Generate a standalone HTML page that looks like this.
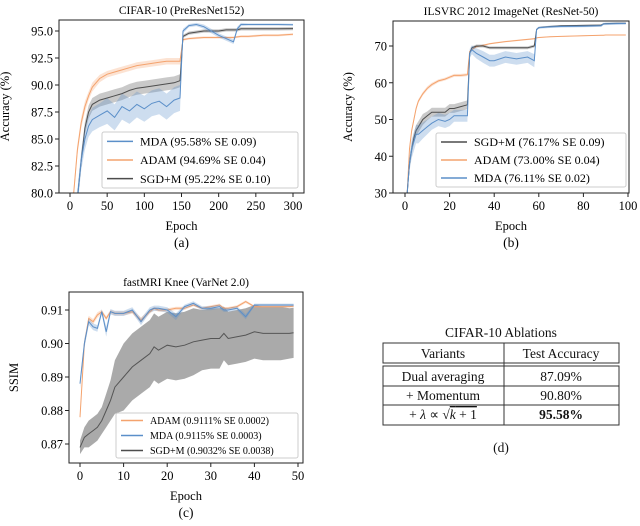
<!DOCTYPE html>
<html><head><meta charset="utf-8">
<style>
body{margin:0;background:#fff;}
svg{display:block;font-family:"Liberation Serif",serif;}
</style></head><body>
<svg id="fig" width="640" height="526" viewBox="0 0 640 526" xmlns="http://www.w3.org/2000/svg">
<!-- table (d) -->
<g font-size="13.5" fill="#111">
<text x="501" y="337" text-anchor="middle">CIFAR-10 Ablations</text>
<rect x="383" y="343" width="236" height="20" fill="none" stroke="#333" stroke-width="1"/>
<rect x="383" y="366" width="236" height="59" fill="none" stroke="#333" stroke-width="1"/>
<line x1="504" y1="343" x2="504" y2="425" stroke="#333"/>
<line x1="383" y1="386" x2="619" y2="386" stroke="#333"/>
<line x1="383" y1="405" x2="619" y2="405" stroke="#333"/>
<text x="443" y="358" text-anchor="middle">Variants</text>
<text x="561" y="358" text-anchor="middle">Test Accuracy</text>
<text x="443" y="381" text-anchor="middle">Dual averaging</text>
<text x="561" y="381" text-anchor="middle">87.09%</text>
<text x="443" y="400" text-anchor="middle">+ Momentum</text>
<text x="561" y="400" text-anchor="middle">90.80%</text>
<text x="443" y="419" text-anchor="middle">+ <tspan font-style="italic">λ</tspan> ∝ √<tspan font-style="italic" text-decoration="overline">k</tspan><tspan text-decoration="overline"> + 1</tspan></text>
<text x="561" y="419" text-anchor="middle" font-weight="bold">95.58%</text>
<text x="501" y="452" text-anchor="middle">(d)</text>
</g>
</svg>
<script>
// ---- data (a) CIFAR-10 ----
const aEpochs=[0,5,10,15,20,25,30,40,50,60,70,80,90,100,110,120,130,140,148,152,160,170,180,190,200,210,220,225,230,240,260,280,300];
const aMDA=[70,76,79.5,83,85,86.2,86.8,87.2,87.6,87.0,88,87.6,88.2,87.8,88.3,88.5,88,88.6,88.8,95.0,95.5,95.6,95.4,95.0,94.6,94.3,94.0,95.2,95.6,95.6,95.6,95.6,95.58];
const aADAM=[70,80,84,86.5,88,89,89.8,90.6,91,91.2,91.4,91.6,91.8,91.9,92.0,92.1,92.2,92.2,92.2,94.2,94.3,94.35,94.4,94.4,94.4,94.4,94.4,94.45,94.5,94.5,94.6,94.6,94.69];
const aSGD=[70,76,79.5,83,86,87.5,88.2,88.6,88.8,89,89.2,89.5,89.7,89.8,89.9,90,90.1,90.2,90.4,94.5,94.8,94.9,95.0,95.0,95.0,95.1,95.1,95.1,95.2,95.2,95.2,95.2,95.22];
const aMDAse=[0.8,0.8,0.8,0.9,1.0,1.0,1.1,1.1,1.2,1.2,1.2,1.2,1.2,1.2,1.2,1.2,1.2,1.2,1.2,0.2,0.15,0.15,0.2,0.2,0.2,0.2,0.2,0.2,0.15,0.1,0.1,0.1,0.1];
const aADAMse=[0.5,0.5,0.5,0.5,0.5,0.4,0.4,0.35,0.3,0.3,0.3,0.3,0.3,0.3,0.3,0.3,0.3,0.3,0.3,0.1,0.1,0.1,0.1,0.1,0.1,0.1,0.1,0.1,0.1,0.1,0.1,0.1,0.1];
const aSGDse=[0.6,0.6,0.6,0.6,0.6,0.6,0.6,0.6,0.6,0.6,0.6,0.6,0.6,0.6,0.6,0.6,0.6,0.6,0.6,0.15,0.15,0.15,0.15,0.15,0.15,0.15,0.15,0.15,0.15,0.15,0.15,0.15,0.15];
const aYTicks=[80.0,82.5,85.0,87.5,90.0,92.5,95.0];
const aXTicks=[0,50,100,150,200,250,300];
// ---- data (b) ImageNet ----
const bEpochs=[1,2,3,4,5,6,8,10,12,15,18,20,22,25,28,29,30,32,35,38,40,45,50,55,58,59,60,65,70,80,88,89,90,95,99];
const bSGD=[30,38,42,45,47,48,50,51,52,52,52,53,53,53.5,54,68,69.5,70,70,69.5,69.5,69.5,69.5,69.5,70,74.5,75,75.3,75.5,75.6,75.7,76,76.1,76.2,76.17];
const bADAM=[30,42,47,50,53,55,57,58.5,59.5,60.5,61,61.5,62,62,62.2,68.5,69,69.8,70.2,70.6,70.8,71.2,71.5,71.8,72,72.2,72.3,72.5,72.6,72.8,72.9,72.9,73,73,73];
const bMDA=[30,38,42,44,46,46,47,48,49,50,49.5,50,51,51,51,68,69,68,67,66,66,67,66.5,67,66,74.5,75,75.2,75.3,75.4,75.5,76,76,76.1,76.11];
const bSGDse=[1,1.5,1.5,1.5,1.5,1.5,1.5,1.2,1.2,1.2,1.2,1.2,1.2,1.2,1.2,0.4,0.4,0.4,0.4,0.4,0.4,0.4,0.4,0.4,0.4,0.2,0.2,0.2,0.2,0.2,0.2,0.2,0.2,0.2,0.2];
const bADAMse=[0.5,0.6,0.6,0.6,0.6,0.5,0.5,0.5,0.5,0.4,0.4,0.4,0.4,0.4,0.4,0.2,0.2,0.2,0.2,0.2,0.2,0.2,0.2,0.2,0.2,0.1,0.1,0.1,0.1,0.1,0.1,0.1,0.1,0.1,0.1];
const bMDAse=[1,2,2.5,2.5,2.5,2.5,2.2,2,1.8,1.8,1.8,1.8,1.6,1.6,1.6,1.2,1.2,1.4,1.6,1.6,1.6,1.6,1.6,1.6,1.8,0.3,0.3,0.3,0.3,0.3,0.3,0.3,0.3,0.3,0.3];
const bYTicks=[30,40,50,60,70];
const bXTicks=[0,20,40,60,80,100];
// ---- data (c) fastMRI ----
const cEpochs=[0,1,2,3,4,5,6,7,8,10,12,14,16,17,18,20,22,24,26,28,30,32,33,34,36,38,40,42,44,46,48,49];
const cADAM=[.878,.900,.9075,.9065,.9085,.9095,.9075,.9095,.909,.909,.9095,.907,.9095,.9105,.91,.91,.9105,.9105,.9115,.9105,.911,.9115,.9105,.9105,.911,.9125,.911,.911,.911,.911,.911,.9111];
const cMDA=[.888,.900,.9065,.905,.9045,.9095,.9035,.9095,.909,.909,.910,.9065,.910,.9105,.9105,.910,.908,.911,.912,.9105,.9105,.911,.910,.910,.9105,.908,.9115,.9115,.9115,.9115,.9115,.9115];
const cSGD=[.869,.872,.873,.874,.875,.877,.880,.883,.887,.890,.893,.895,.897,.899,.898,.8995,.899,.8995,.9005,.901,.9015,.9015,.903,.9015,.902,.9025,.9035,.903,.903,.903,.903,.9032];
const cADAMse=[.001,.001,.0008,.0008,.0008,.0006,.0006,.0006,.0006,.0006,.0006,.0008,.0006,.0005,.0005,.0005,.0005,.0005,.0004,.0004,.0004,.0004,.0004,.0004,.0004,.0004,.0003,.0003,.0003,.0003,.0003,.0003];
const cMDAse=[.0015,.0015,.001,.001,.001,.0008,.0015,.0008,.0008,.0008,.0008,.001,.0008,.0008,.0008,.0008,.001,.0006,.0006,.0006,.0006,.0006,.0006,.0006,.0006,.0008,.0004,.0004,.0004,.0004,.0004,.0004];
const cSGDse=[.002,.003,.004,.004,.004,.004,.005,.006,.008,.010,.010,.010,.010,.010,.010,.010,.010,.010,.010,.009,.009,.009,.008,.008,.008,.008,.008,.008,.008,.008,.0075,.0075];
const cYTicks=[0.87,0.88,0.89,0.90,0.91];
const cXTicks=[0,10,20,30,40,50];

const NS="http://www.w3.org/2000/svg";
const svg=document.getElementById('fig');
function mk(tag,attrs,parent){const e=document.createElementNS(NS,tag);for(const k in attrs)e.setAttribute(k,attrs[k]);(parent||svg).appendChild(e);return e;}
const BLUE='#5b8fc9',ORANGE='#f4a36e',GRAY='#4d4d4d';

function panel(o){
  const g=mk('g',{});
  
  
  const sx=v=>o.px0+(v-o.x0)*(o.px1-o.px0)/(o.x1-o.x0);
  const sy=v=>o.py0+(v-o.y0)*(o.py1-o.py0)/(o.y1-o.y0);
  const cid='clip-'+o.name;
  const defs=mk('defs',{},g);
  const cp=mk('clipPath',{id:cid},defs);
  mk('rect',{x:o.L,y:o.T,width:o.R-o.L,height:o.B-o.T},cp);
  const plot=mk('g',{'clip-path':'url(#'+cid+')'},g);
  o.series.forEach(s=>{
    let d='';
    o.xs.forEach((x,i)=>{d+=(i?'L':'M')+sx(x).toFixed(1)+','+sy(s.v[i]+s.se[i]).toFixed(1);});
    for(let i=o.xs.length-1;i>=0;i--)d+='L'+sx(o.xs[i]).toFixed(1)+','+sy(s.v[i]-s.se[i]).toFixed(1);
    const band=mk('path',{d:d+'Z',fill:s.color,'fill-opacity':s.bandOp||0.3,stroke:'none'},plot);
    
    
    let l='';
    o.xs.forEach((x,i)=>{l+=(i?'L':'M')+sx(x).toFixed(1)+','+sy(s.v[i]).toFixed(1);});
    const line=mk('path',{d:l,fill:'none',stroke:s.color,'stroke-width':1}, plot);
    
    
  });
  const frame=mk('rect',{x:o.L,y:o.T,width:o.R-o.L,height:o.B-o.T,fill:'none',stroke:'#222','stroke-width':1},g);
  
  
  o.yt.forEach(v=>{
    const y=sy(v);
    mk('line',{x1:o.L-4,x2:o.L,y1:y,y2:y,stroke:'#222'},g);
    const t=mk('text',{x:o.L-6,y:y+4.5,'text-anchor':'end','font-size':o.tfs},g);
    t.textContent=o.yfmt(v);
    
    
  });
  o.xt.forEach(v=>{
    const x=sx(v);
    mk('line',{x1:x,x2:x,y1:o.B,y2:o.B+4,stroke:'#222'},g);
    const t=mk('text',{x:x,y:o.B+17,'text-anchor':'middle','font-size':o.tfs},g);
    t.textContent=v;
    
    
  });
  const ti=mk('text',{x:(o.L+o.R)/2,y:o.T-6,'text-anchor':'middle','font-size':11.5},g);
  ti.textContent=o.title;
  
  
  const xl=mk('text',{x:(o.L+o.R)/2,y:o.B+37,'text-anchor':'middle','font-size':12.5},g);
  xl.textContent='Epoch';
  
  
  const cap=mk('text',{x:(o.L+o.R)/2,y:o.B+54,'text-anchor':'middle','font-size':13.5},g);
  cap.textContent=o.cap;
  
  
  const yl=mk('text',{x:o.ylx,y:(o.T+o.B)/2,'text-anchor':'middle','font-size':12.5,transform:'rotate(-90 '+o.ylx+' '+(o.T+o.B)/2+')'},g);
  yl.textContent=o.ylabel;
  
  
  const lg=mk('g',{},g);
  
  
  mk('rect',{x:o.lg[0],y:o.lg[1],width:o.lg[2],height:o.lg[3],fill:'#fff','fill-opacity':0.85,stroke:'#ccc',rx:2},lg);
  const rh=o.lg[3]/o.legend.length;
  o.legend.forEach((e,i)=>{
    const y=o.lg[1]+rh*(i+0.5);
    const ll=mk('line',{x1:o.lg[0]+5,x2:o.lg[0]+5+o.lw,y1:y,y2:y,stroke:e.color,'stroke-width':1.5},lg);
    
    
    const t=mk('text',{x:o.lg[0]+12+o.lw,y:y+o.lfs*0.35,'font-size':o.lfs},lg);
    t.textContent=e.label;
    
    
  });
}

panel({name:'chart-cifar10',L:59,R:304,T:20,B:193,x0:0,x1:300,px0:70,px1:293,y0:80,y1:95,py0:193,py1:31,
  xs:aEpochs,series:[{key:'adam',v:aADAM,se:aADAMse,color:ORANGE},{key:'sgd',v:aSGD,se:aSGDse,color:GRAY},{key:'mda',v:aMDA,se:aMDAse,color:BLUE}],
  yt:aYTicks,xt:aXTicks,yfmt:v=>v.toFixed(1),tfs:12.5,title:'CIFAR-10 (PreResNet152)',cap:'(a)',ylabel:'Accuracy (%)',ylx:9,
  lg:[102,132,196,56],lw:26,lfs:12,legend:[{label:'MDA (95.58% SE 0.09)',color:BLUE},{label:'ADAM (94.69% SE 0.04)',color:ORANGE},{label:'SGD+M (95.22% SE 0.10)',color:GRAY}]});
panel({name:'chart-imagenet',L:393,R:629,T:21,B:193,x0:0,x1:100,px0:405,px1:628,y0:30,y1:70,py0:193,py1:46,
  xs:bEpochs,series:[{key:'adam',v:bADAM,se:bADAMse,color:ORANGE},{key:'sgd',v:bSGD,se:bSGDse,color:GRAY},{key:'mda',v:bMDA,se:bMDAse,color:BLUE}],
  yt:bYTicks,xt:bXTicks,yfmt:v=>v,tfs:12.5,title:'ILSVRC 2012 ImageNet (ResNet-50)',cap:'(b)',ylabel:'Accuracy (%)',ylx:352,
  lg:[436,133,190,54],lw:26,lfs:12,legend:[{label:'SGD+M (76.17% SE 0.09)',color:GRAY},{label:'ADAM (73.00% SE 0.04)',color:ORANGE},{label:'MDA (76.11% SE 0.02)',color:BLUE}]});
panel({name:'chart-fastmri',L:69,R:303,T:292,B:463,x0:0,x1:50,px0:80,px1:298,y0:0.87,y1:0.91,py0:444,py1:310,
  xs:cEpochs,series:[{key:'sgd',v:cSGD,se:cSGDse,color:'#555',bandOp:0.5},{key:'adam',v:cADAM,se:cADAMse,color:ORANGE},{key:'mda',v:cMDA,se:cMDAse,color:BLUE}],
  yt:cYTicks,xt:cXTicks,yfmt:v=>v.toFixed(2),tfs:12.5,title:'fastMRI Knee (VarNet 2.0)',cap:'(c)',ylabel:'SSIM',ylx:18,
  lg:[116,413,182,45],lw:22,lfs:10,legend:[{label:'ADAM (0.9111% SE 0.0002)',color:ORANGE},{label:'MDA (0.9115% SE 0.0003)',color:BLUE},{label:'SGD+M (0.9032% SE 0.0038)',color:GRAY}]});
</script>
</body></html>
